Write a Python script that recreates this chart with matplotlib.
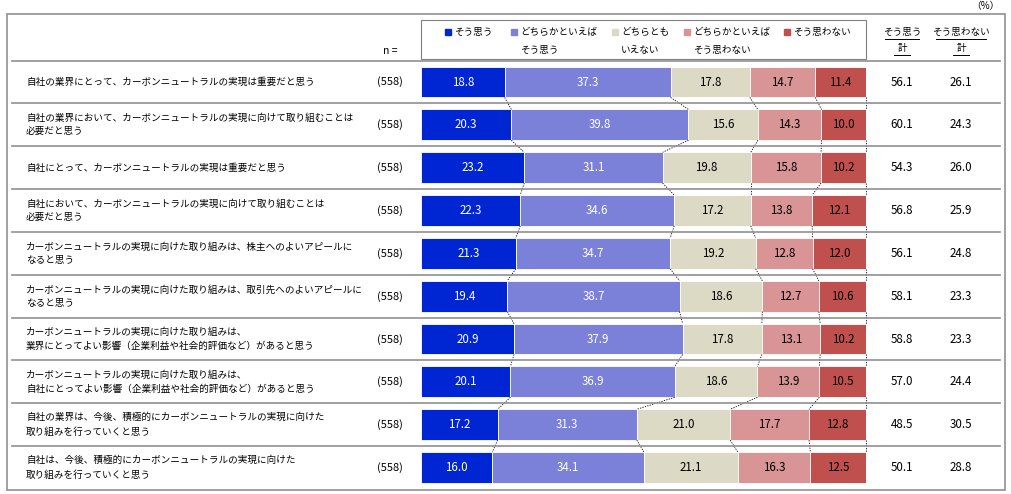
import matplotlib
matplotlib.use("Agg")
import matplotlib.pyplot as plt
import matplotlib.transforms as mtrans
from matplotlib.patches import Rectangle

plt.rcParams['font.family'] = ['Noto Sans CJK JP', 'DejaVu Sans']

categories = [
    "自社の業界にとって、カーボンニュートラルの実現は重要だと思う",
    "自社の業界において、カーボンニュートラルの実現に向けて取り組むことは\n必要だと思う",
    "自社にとって、カーボンニュートラルの実現は重要だと思う",
    "自社において、カーボンニュートラルの実現に向けて取り組むことは\n必要だと思う",
    "カーボンニュートラルの実現に向けた取り組みは、株主へのよいアピールに\nなると思う",
    "カーボンニュートラルの実現に向けた取り組みは、取引先へのよいアピールに\nなると思う",
    "カーボンニュートラルの実現に向けた取り組みは、\n業界にとってよい影響（企業利益や社会的評価など）があると思う",
    "カーボンニュートラルの実現に向けた取り組みは、\n自社にとってよい影響（企業利益や社会的評価など）があると思う",
    "自社の業界は、今後、積極的にカーボンニュートラルの実現に向けた\n取り組みを行っていくと思う",
    "自社は、今後、積極的にカーボンニュートラルの実現に向けた\n取り組みを行っていくと思う",
]
n_values = [558] * 10
series_names = ["そう思う", "どちらかといえば\nそう思う", "どちらとも\nいえない", "どちらかといえば\nそう思わない", "そう思わない"]
s1 = [18.8, 20.3, 23.2, 22.3, 21.3, 19.4, 20.9, 20.1, 17.2, 16.0]
s2 = [37.3, 39.8, 31.1, 34.6, 34.7, 38.7, 37.9, 36.9, 31.3, 34.1]
s3 = [17.8, 15.6, 19.8, 17.2, 19.2, 18.6, 17.8, 18.6, 21.0, 21.1]
s4 = [14.7, 14.3, 15.8, 13.8, 12.8, 12.7, 13.1, 13.9, 17.7, 16.3]
s5 = [11.4, 10.0, 10.2, 12.1, 12.0, 10.6, 10.2, 10.5, 12.8, 12.5]
agree_total = [56.1, 60.1, 54.3, 56.8, 56.1, 58.1, 58.8, 57.0, 48.5, 50.1]
disagree_total = [26.1, 24.3, 26.0, 25.9, 24.8, 23.3, 23.3, 24.4, 30.5, 28.8]

colors = ["#0026d4", "#7b80d8", "#dcd9c4", "#d99595", "#c0504d"]
txtcol = ["white", "white", "black", "black", "black"]
series = [s1, s2, s3, s4, s5]

W, H = 1012, 494
fig = plt.figure(figsize=(W/100, H/100), dpi=100)
fs = 7.5
cfs = 6.9

def fx(px): return px / W
def fy(py): return 1 - py / H

ax = fig.add_axes([fx(421), fy(489), fx(866) - fx(421), (489 - 60.6) / H])
ax.set_xlim(0, 100)
ax.set_ylim(9.5, -0.5)
ax.axis('off')
bt = mtrans.blended_transform_factory(fig.transFigure, ax.transData)

nrows = len(categories)
bh = 0.72
for i in range(nrows):
    left = 0
    for k, s in enumerate(series):
        v = s[i]
        ax.barh(i, v, left=left, height=bh, color=colors[k], edgecolor='white', linewidth=0.6)
        ax.text(left + v/2, i, f"{v:.1f}", ha='center', va='center', fontsize=fs + 0.8, color=txtcol[k])
        left += v
    if i < nrows - 1:
        c1 = 0; c2 = 0
        for k in range(4):
            c1 += series[k][i]; c2 += series[k][i+1]
            ax.plot([c1, c2], [i + bh/2, i + 1 - bh/2], ls=(0, (1.5, 1.5)), color='black', lw=0.6, clip_on=False)
        ax.plot([100, 100], [i + bh/2, i + 1 - bh/2], ls=(0, (1.5, 1.5)), color='black', lw=0.6, clip_on=False)
    ax.text(fx(26), i, categories[i], transform=bt, ha='left', va='center', fontsize=cfs, linespacing=1.6)
    ax.text(fx(390), i, f"({n_values[i]})", transform=bt, ha='center', va='center', fontsize=fs + 0.5)
    ax.text(fx(902), i, f"{agree_total[i]:.1f}", transform=bt, ha='center', va='center', fontsize=fs + 0.8)
    ax.text(fx(961), i, f"{disagree_total[i]:.1f}", transform=bt, ha='center', va='center', fontsize=fs + 0.8)
    if i < nrows - 1:
        ax.plot([fx(12), fx(1000)], [i + 0.5, i + 0.5], transform=bt, color='#909090', lw=1.2, clip_on=False)

fig.patches.append(Rectangle((fx(7), fy(490)), fx(1005) - fx(7), fy(14) - fy(490),
                             transform=fig.transFigure, fill=False, edgecolor='#909090', lw=1.2))
fig.lines.append(plt.Line2D([fx(12), fx(1000)], [fy(60.6), fy(60.6)], transform=fig.transFigure, color='#909090', lw=1.2))
fig.patches.append(Rectangle((fx(421), fy(59)), fx(866) - fx(421), fy(20) - fy(59),
                             transform=fig.transFigure, fill=False, edgecolor='#808080', lw=0.8))
leg_x = [445, 511, 612, 684, 784]
for k, name in enumerate(series_names):
    lines = name.split("\n")
    fig.patches.append(Rectangle((fx(leg_x[k]), fy(35)), 6/W, 6/H, transform=fig.transFigure, color=colors[k]))
    fig.text(fx(leg_x[k] + 9), fy(32), lines[0], ha='left', va='center', fontsize=cfs)
    if len(lines) > 1:
        fig.text(fx(leg_x[k] + 9), fy(50), lines[1], ha='left', va='center', fontsize=cfs)

fig.text(fx(902), fy(32), "そう思う", ha='center', va='center', fontsize=cfs)
fig.text(fx(902), fy(48), "計", ha='center', va='center', fontsize=cfs)
fig.text(fx(961), fy(32), "そう思わない", ha='center', va='center', fontsize=cfs)
fig.text(fx(961), fy(48), "計", ha='center', va='center', fontsize=cfs)
for cx, w in [(902, 34), (961, 50)]:
    fig.lines.append(plt.Line2D([fx(cx - w/2), fx(cx + w/2)], [fy(39), fy(39)], transform=fig.transFigure, color='black', lw=0.7))
    fig.lines.append(plt.Line2D([fx(cx - 8), fx(cx + 8)], [fy(55), fy(55)], transform=fig.transFigure, color='black', lw=0.7))
fig.text(fx(390), fy(51), "n =", ha='center', va='center', fontsize=fs)
fig.text(fx(1000), fy(6), "（%）", ha='right', va='center', fontsize=fs - 0.5)

fig.savefig("out.png", dpi=100)
